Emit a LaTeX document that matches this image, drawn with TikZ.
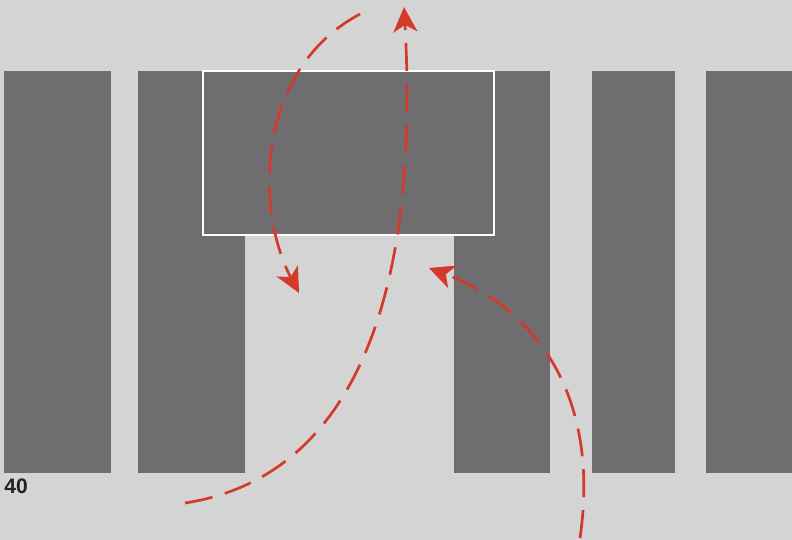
\documentclass[tikz,border=0pt]{standalone}
\usepackage{fontspec}
\setmainfont{Liberation Sans}
\usetikzlibrary{arrows.meta}
\definecolor{shBack}{RGB}{212,212,212}
\definecolor{shBar}{RGB}{111,109,111}
\definecolor{shRed}{RGB}{212,58,44}
\definecolor{shText}{RGB}{34,34,34}
\begin{document}
\begin{tikzpicture}[
    x=0.5pt, y=-0.5pt,
    bar/.style={fill=shBar},
    frame box/.style={fill=shBar, draw=white, line width=1.4pt},
    flow/.style={draw=shRed, line width=1.35pt, dash pattern=on 14pt off 6.5pt, -{Stealth[length=12.5pt, width=12pt, inset=3.5pt]}},
    label note/.style={font=\bfseries\fontsize{10.5}{12}\selectfont, text=shText, inner sep=0pt, anchor=base west}
]
  \fill[shBack] (0,0) rectangle (792,540);
  \useasboundingbox (0,0) rectangle (792,540);

  % columns
  \fill[bar] (4,71) rectangle (111,473);
  \fill[bar] (138,71) rectangle (245,473);
  \fill[bar] (454,71) rectangle (550,473);
  \fill[bar] (592,71) rectangle (675,473);
  \fill[bar] (706,71) rectangle (792,473);
  \filldraw[frame box] (203,71) rectangle (494,235);

  \node[label note] (num) at (4,493) {40};

  % ends of the flows
  \coordinate (inA) at (360,14);
  \coordinate (outA) at (299,293);
  \coordinate (inB) at (185,503);
  \coordinate (outB) at (404,7);
  \coordinate (inC) at (580,538);
  \coordinate (outC) at (429,268);

  \draw[flow] (inA) .. controls (255,70) and (255,210) .. (outA);
  \draw[flow] (inB) .. controls (335,480) and (422,330) .. (outB);
  \draw[flow] (inC) .. controls (600,400) and (540,310) .. (outC);
\end{tikzpicture}
\end{document}
